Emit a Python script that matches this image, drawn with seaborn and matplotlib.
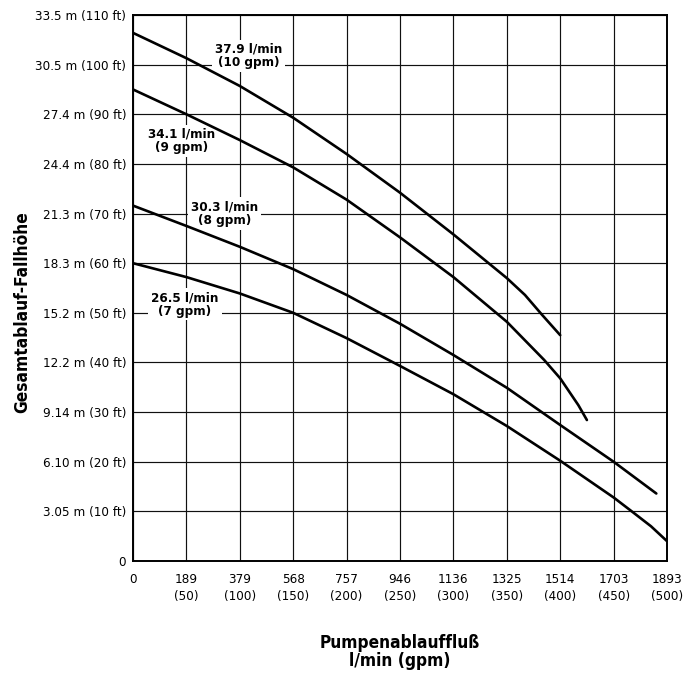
import matplotlib
matplotlib.use("Agg")
import matplotlib.pyplot as plt
import seaborn as sns
import pandas as pd
from matplotlib import font_manager as fm

# ---- data (flow in gpm, head in ft) ----
flow_10 = [0, 50, 100, 150, 200, 250, 300, 350, 367, 383, 400]
head_10 = [106.4, 101.3, 95.7, 89.3, 82.0, 74.2, 65.8, 57.0, 53.6, 49.6, 45.5]

flow_9 = [0, 50, 100, 150, 200, 250, 300, 350, 385, 400, 417, 425]
head_9 = [95.0, 90.0, 84.8, 79.3, 72.8, 65.2, 57.2, 48.2, 40.5, 36.8, 31.4, 28.4]

flow_8 = [0, 50, 100, 150, 200, 250, 300, 350, 400, 450, 490]
head_8 = [71.6, 67.5, 63.3, 58.8, 53.6, 47.8, 41.5, 34.9, 27.4, 20.0, 13.6]

flow_7 = [0, 50, 100, 150, 200, 250, 300, 350, 400, 450, 467, 485, 500]
head_7 = [60.0, 57.2, 53.9, 50.0, 44.9, 39.3, 33.6, 27.2, 20.2, 12.8, 10.0, 7.0, 4.0]

series_names = ["37.9 l/min\n(10 gpm)", "34.1 l/min\n(9 gpm)",
                "30.3 l/min\n(8 gpm)", "26.5 l/min\n(7 gpm)"]
label_x = [108, 45.5, 85.8, 48.7]
label_y = [101.7, 84.6, 70.0, 51.7]

x_ticks = [0, 50, 100, 150, 200, 250, 300, 350, 400, 450, 500]
x_labels = ["0", "189\n(50)", "379\n(100)", "568\n(150)", "757\n(200)",
            "946\n(250)", "1136\n(300)", "1325\n(350)", "1514\n(400)",
            "1703\n(450)", "1893\n(500)"]
y_ticks = [0, 10, 20, 30, 40, 50, 60, 70, 80, 90, 100, 110]
y_labels = ["0", "3.05 m (10 ft)", "6.10 m (20 ft)", "9.14 m (30 ft)",
            "12.2 m (40 ft)", "15.2 m (50 ft)", "18.3 m (60 ft)",
            "21.3 m (70 ft)", "24.4 m (80 ft)", "27.4 m (90 ft)",
            "30.5 m (100 ft)", "33.5 m (110 ft)"]

x_title = "Pumpenablauffluß\nl/min (gpm)"
y_title = "Gesamtablauf-Fallhöhe"

# ---- build long-form table ----
rows = []
for name, fx, hy in zip(series_names, [flow_10, flow_9, flow_8, flow_7],
                        [head_10, head_9, head_8, head_7]):
    for a, b in zip(fx, hy):
        rows.append({"gpm": a, "ft": b, "series": name})
df = pd.DataFrame(rows)

sns.set_theme(style="white")
names = {f.name for f in fm.fontManager.ttflist}
if "Liberation Sans Narrow" in names:
    FAM = ["Liberation Sans Narrow", "DejaVu Sans"]
    STRETCH = "normal"
    scale = 1.0
else:
    FAM = ["DejaVu Sans"]
    STRETCH = "condensed"
    scale = 0.8
plt.rcParams["font.family"] = FAM
plt.rcParams["font.stretch"] = STRETCH
plt.rcParams["text.color"] = "black"
plt.rcParams["xtick.color"] = "black"
plt.rcParams["ytick.color"] = "black"

fig = plt.figure(figsize=(6.95, 6.81), dpi=100)
ax = fig.add_axes([133 / 695, 1 - 561 / 681, 534 / 695, 546 / 681])

sns.lineplot(data=df, x="gpm", y="ft", hue="series", units="series",
             estimator=None, sort=False, palette=["black"] * 4,
             legend=False, linewidth=1.9, ax=ax, zorder=4)

ax.set_xlim(0, 500)
ax.set_ylim(0, 110)
ax.set_xticks(x_ticks)
ax.set_xticklabels(x_labels, fontsize=12 * scale, linespacing=1.45)
ax.set_yticks(y_ticks)
ax.set_yticklabels(y_labels, fontsize=12 * scale)
ax.tick_params(axis="both", length=0, colors="black", labelcolor="black")
ax.tick_params(axis="x", pad=8.5)
ax.tick_params(axis="y", pad=5)
ax.grid(True, color="#111111", linewidth=0.85)
ax.set_axisbelow(True)
for s in ax.spines.values():
    s.set_color("black")
    s.set_linewidth(1.4)
ax.set_xlabel("")
ax.set_ylabel("")

for t, lx, ly in zip(series_names, label_x, label_y):
    ax.text(lx, ly, t, ha="center", va="center", fontsize=12 * scale,
            fontweight="bold", linespacing=1.05, zorder=3, color="black",
            bbox=dict(facecolor="white", edgecolor="none", pad=2.0))

fig.text(400 / 695, 1 - 652 / 681, x_title, ha="center", va="center",
         fontsize=15.5 * scale, fontweight="bold", linespacing=1.05,
         multialignment="center", color="black")
fig.text(22 / 695, 1 - 312 / 681, y_title, ha="center", va="center",
         rotation=90, fontsize=15.5 * scale, fontweight="bold", color="black")

fig.savefig("out.png", dpi=100, facecolor="white")
